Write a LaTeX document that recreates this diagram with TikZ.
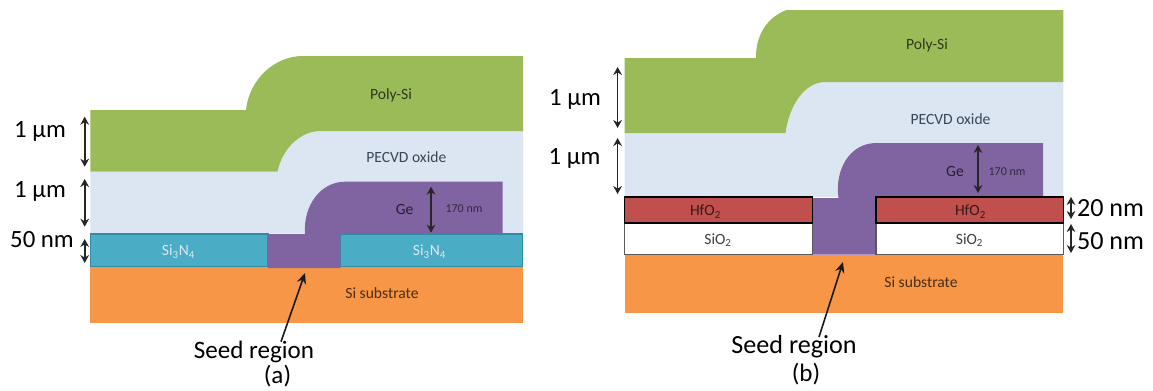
\documentclass[tikz,border=0pt]{standalone}
\usepackage{fontspec}
\setmainfont{Carlito}
\usetikzlibrary{arrows.meta}
\definecolor{polyc}{HTML}{9BBB59}
\definecolor{oxc}{HTML}{DCE6F2}
\definecolor{gec}{HTML}{8064A2}
\definecolor{sic}{HTML}{F79646}
\definecolor{nitc}{HTML}{4BACC6}
\definecolor{nitb}{HTML}{2E8CA6}
\definecolor{hfc}{HTML}{C0504D}
\definecolor{oxtext}{HTML}{3A4658}
\tikzset{
  big/.style={font=\fontsize{18.6}{20}\selectfont,text=black,inner sep=0pt},
  seedlab/.style={font=\fontsize{18.8}{20}\selectfont,text=black,inner sep=0pt},
  small/.style={font=\fontsize{11.7}{13}\selectfont,inner sep=0pt},
  tiny/.style={font=\fontsize{9}{10}\selectfont,inner sep=0pt,text=gec!40!black},
  dim/.style={draw=black!85,line width=1.2pt,{Stealth[length=6pt,width=6.5pt]}-{Stealth[length=6pt,width=6.5pt]}},
  lead/.style={draw=black!90,line width=1.2pt,-{Stealth[length=8pt,width=7pt]}},
  nit/.style={fill=nitc,draw=nitb,line width=0.8pt},
  hf/.style={fill=hfc,draw=black,line width=1.2pt},
  sio/.style={fill=white,draw=black!65,line width=1pt}
}
\begin{document}
\begin{tikzpicture}[x=0.75pt,y=-0.75pt]
\useasboundingbox (0,0) rectangle (1153,390);
% ---------- panel (a)
\fill[oxc] (90.3,171.7) -- (277.5,171.7) .. controls (282,150) and (299,131) .. (321,131) -- (523,131) -- (523,233.7) -- (90.3,233.7) -- cycle;
\fill[polyc] (90.3,110) -- (246,110) .. controls (249,80) and (274,56) .. (303,56) -- (523,56) -- (523,131) -- (321,131) .. controls (299,131) and (282,150) .. (277.5,171.7) -- (90.3,171.7) -- cycle;
\fill[sic] (90.3,267) rectangle (522.7,322.7);
\path[nit] (90.3,234) rectangle (268,266.5);
\path[nit] (340.3,234) rectangle (522.7,266.5);
\fill[gec] (305,234) .. controls (303,205) and (321,181.7) .. (345,181.7) -- (502.5,181.7) -- (502.5,233.3) -- (340.3,233.3) -- (340.3,268) -- (268,268) -- (268,234) -- cycle;
\node[small,text=polyc!30!black] (apoly) at (391,95.7) {Poly-Si};
\node[small,text=oxtext] (aox) at (406.3,156.7) {PECVD oxide};
\node[small,text=gec!30!black] (age) at (404.6,209) {Ge};
\node[tiny] (a170) at (464,209) {170 nm};
\node[small,text=oxc] (an1) at (178.5,251.7) {Si\textsubscript{3}N\textsubscript{4}};
\node[small,text=oxc] (an2) at (429.5,251.7) {Si\textsubscript{3}N\textsubscript{4}};
\node[small,text=sic!30!black] (asi) at (382,293) {Si substrate};
\node[big] (al1) at (40,132) {1 µm};
\node[big] (al2) at (40,192) {1 µm};
\node[big] (al3) at (42,240) {50 nm};
\node[seedlab] (aseed) at (254,351.7) {Seed region};
\node[seedlab] (acap) at (277.5,376) {(a)};
\coordinate (a1t) at (84.7,116.7); \coordinate (a1b) at (84.7,166.7);
\coordinate (a2t) at (84.7,179); \coordinate (a2b) at (84.7,226.7);
\coordinate (a3t) at (84.7,239); \coordinate (a3b) at (84.7,263);
\coordinate (agt) at (431,186.7); \coordinate (agb) at (431,232.7);
\coordinate (astart) at (281,341.7); \coordinate (aend) at (305,273);
\draw[dim] (a1t) -- (a1b);
\draw[dim] (a2t) -- (a2b);
\draw[dim] (a3t) -- (a3b);
\draw[dim] (agt) -- (agb);
\draw[lead] (astart) -- (aend);
% ---------- panel (b)
\fill[oxc] (624.5,133) -- (785.5,133) .. controls (789.5,105) and (804.5,82) .. (825.5,82) -- (1063.3,82) -- (1063.3,197) -- (624.5,197) -- cycle;
\fill[polyc] (624.5,58) -- (756,58) .. controls (755.5,35) and (767.5,17) .. (786.5,10) -- (1063.3,10) -- (1063.3,82) -- (825.5,82) .. controls (804.5,82) and (789.5,105) .. (785.5,133) -- (624.5,133) -- cycle;
\fill[sic] (624.5,254.5) rectangle (1063.3,313);
\fill[gec] (838.5,198) .. controls (834.5,170) and (849.5,143) .. (876.5,143) -- (1043,143) -- (1043,197) -- (876,197) -- (876,254.5) -- (812.5,254.5) -- (812.5,198) -- cycle;
\path[sio] (624.5,223) rectangle (812.5,254.5);
\path[sio] (876,223) rectangle (1063.3,254.5);
\path[hf] (624.5,197) rectangle (812.5,222.7);
\path[hf] (876,197) rectangle (1063.3,222.7);
\node[small,text=polyc!30!black] (bpoly) at (927,45) {Poly-Si};
\node[small,text=oxtext] (box) at (950.5,119) {PECVD oxide};
\node[small,text=gec!30!black] (bge) at (955,171.7) {Ge};
\node[tiny] (b170) at (1007,172) {170 nm};
\node[small,text=hfc!30!black] (bh1) at (705.5,211.7) {HfO\textsubscript{2}};
\node[small,text=hfc!30!black] (bh2) at (970.5,211.7) {HfO\textsubscript{2}};
\node[small,text=black!75] (bs1) at (718,240) {SiO\textsubscript{2}};
\node[small,text=black!75] (bs2) at (969.5,240) {SiO\textsubscript{2}};
\node[small,text=sic!30!black] (bsi) at (921,282) {Si substrate};
\node[big] (bl1) at (575,100) {1 µm};
\node[big] (bl2) at (574.5,158.7) {1 µm};
\node[big,font=\fontsize{19.6}{21}\selectfont] (bl3) at (1110.5,208) {20 nm};
\node[big,font=\fontsize{19.6}{21}\selectfont] (bl4) at (1110.5,241) {50 nm};
\node[seedlab,font=\fontsize{19.6}{21}\selectfont] (bseed) at (794,347) {Seed region};
\node[seedlab] (bcap) at (806,374) {(b)};
\coordinate (b1t) at (617.6,67); \coordinate (b1b) at (617.6,128);
\coordinate (b2t) at (617.6,138); \coordinate (b2b) at (617.6,194);
\coordinate (b3t) at (1071,197); \coordinate (b3b) at (1071,219);
\coordinate (b4t) at (1071,224); \coordinate (b4b) at (1071,253);
\coordinate (bgt) at (978,145); \coordinate (bgb) at (978,193);
\coordinate (bstart) at (819,337); \coordinate (bend) at (843,262);
\draw[dim] (b1t) -- (b1b);
\draw[dim] (b2t) -- (b2b);
\draw[dim] (b3t) -- (b3b);
\draw[dim] (b4t) -- (b4b);
\draw[dim] (bgt) -- (bgb);
\draw[lead] (bstart) -- (bend);
\end{tikzpicture}
\end{document}
